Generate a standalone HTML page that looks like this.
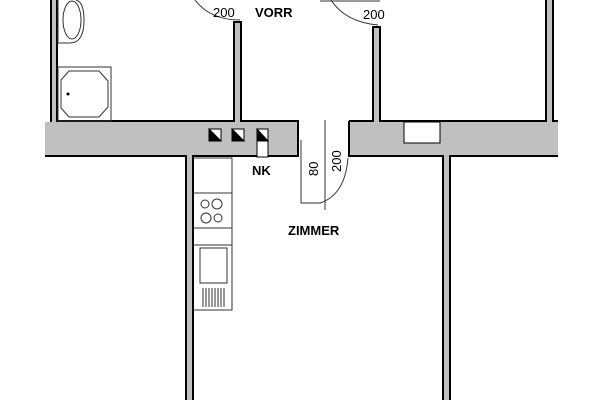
<!DOCTYPE html>
<html><head><style>body{margin:0;background:#fff}svg{display:block}</style></head><body>
<svg width="600" height="400" viewBox="0 0 600 400" xmlns="http://www.w3.org/2000/svg" font-family="Liberation Sans, sans-serif">
<g fill="#c0c0c0" stroke="none">
<rect x="45" y="122" width="253" height="34"/>
<rect x="349" y="121" width="209" height="35"/>
<rect x="50" y="0" width="7" height="122"/>
<rect x="234" y="22" width="7" height="100"/>
<rect x="373" y="27" width="7" height="95"/>
<rect x="546" y="0" width="7" height="122"/>
<rect x="186" y="156" width="7" height="244"/>
<rect x="443" y="156" width="7" height="244"/>
</g>
<g stroke="#000" stroke-width="2" fill="none">
<path d="M51,0V122M57,0V121H234V22H241V121H298V156H193V400M186,400V156H45"/>
<path d="M349,121H373V27H380V121H546V0M553,0V121H558M349,121V156H443V400M450,400V156H558"/>
</g>
<rect x="404" y="122" width="36" height="21" fill="#fff" stroke="#000" stroke-width="1"/>
<g stroke="#000" stroke-width="1">
<rect x="209" y="129" width="12" height="12" fill="#fff"/><path d="M209,129L221,141H209Z" fill="#000"/>
<rect x="232" y="129" width="12" height="12" fill="#fff"/><path d="M232,129L244,141H232Z" fill="#000"/>
<rect x="257" y="129" width="11" height="12" fill="#fff"/><path d="M257,129L268,141H257Z" fill="#000"/>
<rect x="257" y="141" width="11" height="16" fill="#fff"/>
</g>
<g stroke="#333" stroke-width="1" fill="none">
<path d="M193,158H232V310H193"/>
<path d="M193,193H232M193,228H232M193,245H232"/>
<circle cx="205" cy="204" r="4"/><circle cx="217" cy="204" r="5"/>
<circle cx="206" cy="218" r="5"/><circle cx="218" cy="218" r="4"/>
<rect x="200" y="248" width="27" height="35"/>
<path d="M203,288V307M206,288V307M209,288V307M212,288V307M215,288V307M218,288V307M221,288V307M224,288V307"/>
<path d="M58,0V43H70Q84,43 84,20Q84,2 76,0"/>
<ellipse cx="72" cy="20" rx="9" ry="19"/>
<rect x="58" y="67" width="53" height="54"/>
<path d="M69,71H99L108,81V107L99,117H69L61,108V80Z"/>
<path d="M195,0Q210,20 240,20"/>
<path d="M320,1H380M331,0Q345,22 378,25"/>
<path d="M325,120V210"/>
<path d="M301,140V203H320Q345,195 348,158"/>
</g>
<circle cx="68" cy="94" r="1.5" fill="#000"/>
<g font-size="13" fill="#000">
<text x="213" y="17">200</text>
<text x="363" y="19">200</text>
<text x="318" y="176" transform="rotate(-90 318 176)">80</text>
<text x="341" y="172" transform="rotate(-90 341 172)">200</text>
</g>
<g font-size="13" font-weight="bold" fill="#000">
<text x="255" y="17">VORR</text>
<text x="252" y="175">NK</text>
<text x="288" y="235">ZIMMER</text>
</g>
</svg>
</body></html>
